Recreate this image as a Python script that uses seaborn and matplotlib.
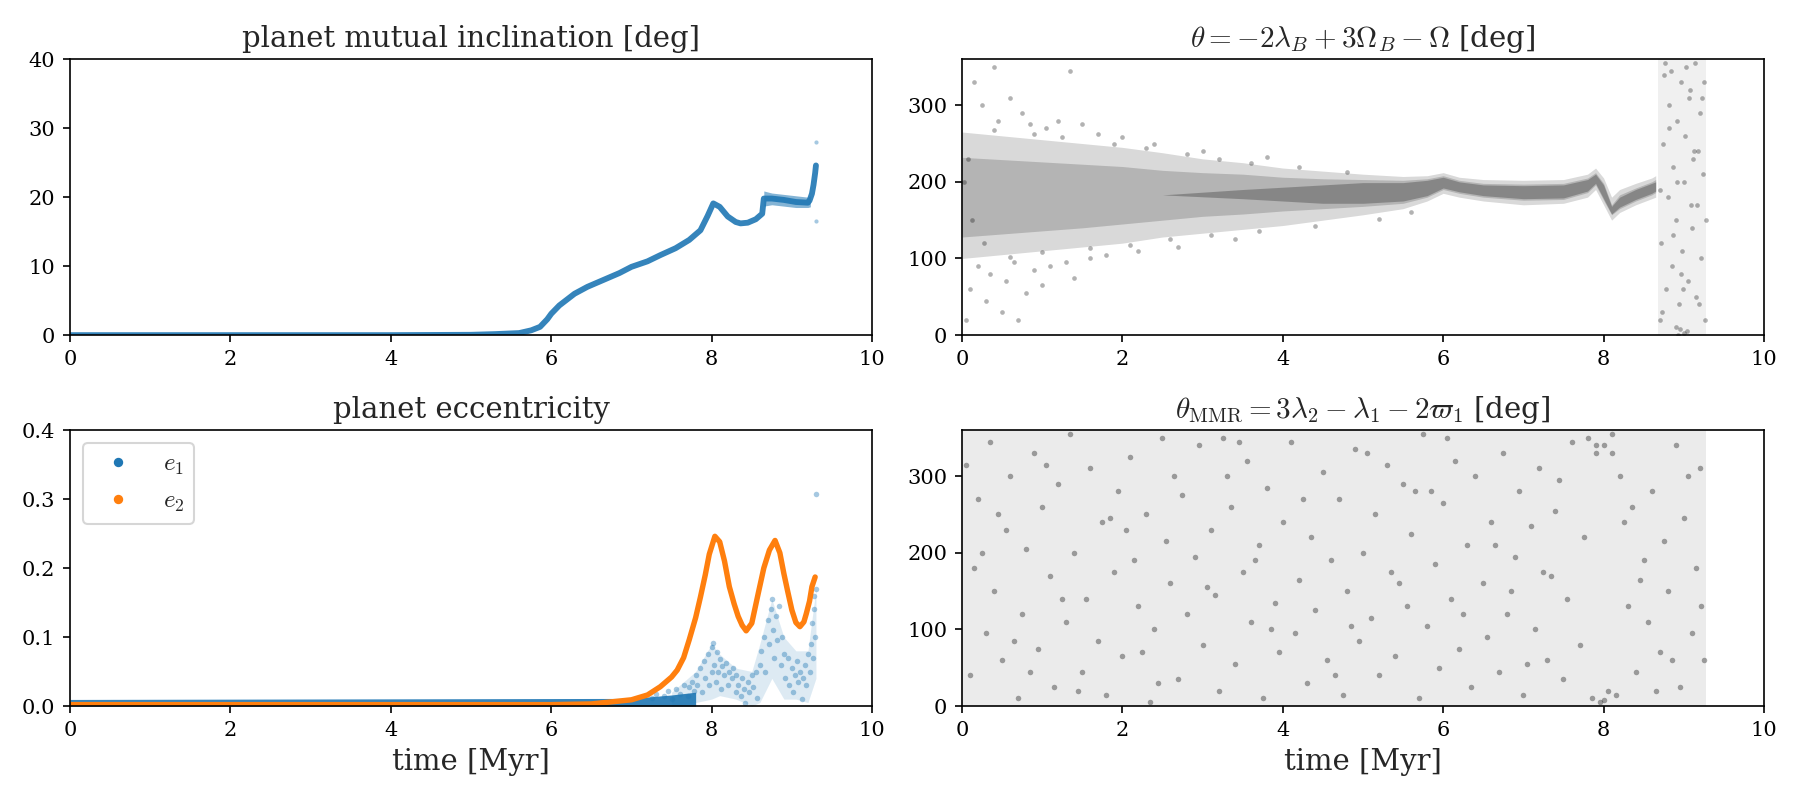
import matplotlib
matplotlib.use("Agg")
import matplotlib.pyplot as plt
import seaborn as sns
from matplotlib.lines import Line2D

# ---------------- data ----------------
# mutual inclination [deg]
inc_t = [0, 1, 2, 3, 4, 5.0, 5.3, 5.6, 5.75, 5.86, 5.95, 6.0, 6.1, 6.29, 6.45, 6.65,
         6.85, 7.0, 7.2, 7.36, 7.55, 7.72, 7.86, 7.95, 8.02, 8.1, 8.2, 8.3, 8.36, 8.45,
         8.55, 8.63, 8.65, 8.75, 8.9, 9.05, 9.2, 9.22, 9.25, 9.27, 9.29, 9.3]
inc_deg = [0, 0, 0, 0, 0, 0.05, 0.15, 0.3, 0.7, 1.2, 2.3, 3.1, 4.3, 6.0, 7.0, 8.0,
           9.0, 9.9, 10.7, 11.6, 12.6, 13.8, 15.2, 17.3, 19.1, 18.6, 17.2, 16.4, 16.2, 16.3,
           16.8, 17.6, 19.8, 19.8, 19.6, 19.3, 19.2, 19.5, 20.5, 21.8, 23.5, 24.6]
inc_band_t = [8.65, 8.75, 8.9, 9.05, 9.2, 9.23]
inc_band_lo = [18.7, 18.9, 18.7, 18.5, 18.5, 18.6]
inc_band_hi = [20.9, 20.6, 20.4, 20.2, 20.0, 20.2]
inc_out_t = [9.3, 9.3]
inc_out_deg = [28.0, 16.5]

# eccentricities
e2_t = [0, 2, 4, 6, 6.5, 7.0, 7.2, 7.36, 7.5, 7.57, 7.65, 7.72, 7.8, 7.86, 7.92, 7.97,
        8.04, 8.1, 8.16, 8.22, 8.28, 8.33, 8.38, 8.43, 8.5, 8.58, 8.65, 8.72, 8.79, 8.85,
        8.9, 8.95, 9.0, 9.05, 9.1, 9.15, 9.18, 9.22, 9.25, 9.29]
e2 = [0.002, 0.002, 0.002, 0.002, 0.003, 0.009, 0.016, 0.028, 0.042, 0.052, 0.07, 0.096,
      0.128, 0.158, 0.19, 0.22, 0.246, 0.238, 0.21, 0.173, 0.148, 0.13, 0.117, 0.109,
      0.12, 0.163, 0.2, 0.226, 0.24, 0.222, 0.192, 0.165, 0.139, 0.121, 0.115, 0.122,
      0.134, 0.152, 0.173, 0.187]
e1_band_t = [0, 7.0, 7.5, 7.8]
e1_band_lo = [0.0, 0.0, 0.0, 0.0]
e1_band_hi = [0.0095, 0.011, 0.016, 0.02]
e1_cloud_t = [7.5, 7.8, 8.0, 8.1, 8.3, 8.5, 8.6, 8.75, 8.9, 9.05, 9.2, 9.3]
e1_cloud_lo = [0.0, 0.005, 0.01, 0.015, 0.01, 0.0, 0.005, 0.04, 0.01, 0.01, 0.005, 0.04]
e1_cloud_hi = [0.02, 0.05, 0.09, 0.075, 0.055, 0.05, 0.09, 0.155, 0.1, 0.08, 0.08, 0.17]
e1_t = [7.25, 7.3, 7.4, 7.45, 7.5, 7.55, 7.6, 7.65, 7.7, 7.72, 7.75, 7.78,
        7.8, 7.82, 7.85, 7.88, 7.9, 7.92, 7.95, 7.97, 8.0, 8.0, 8.02, 8.03, 8.05,
        8.07, 8.08, 8.1, 8.12, 8.13, 8.15, 8.18, 8.2, 8.22, 8.25, 8.27, 8.3, 8.3,
        8.33, 8.36, 8.38, 8.4, 8.42, 8.45, 8.47, 8.5, 8.52, 8.55, 8.57, 8.6,
        8.62, 8.65, 8.67, 8.7, 8.72, 8.74, 8.75, 8.77, 8.78, 8.8, 8.82, 8.84, 8.86,
        8.88, 8.9, 8.92, 8.95, 8.97, 9.0, 9.02, 9.04, 9.06, 9.08, 9.1, 9.12, 9.14,
        9.16, 9.18, 9.2, 9.22, 9.24, 9.25, 9.26, 9.27, 9.28, 9.29, 9.3, 9.3]
e1 = [0.012, 0.018, 0.015, 0.022, 0.01, 0.025, 0.018, 0.03, 0.014, 0.028, 0.035, 0.022,
      0.045, 0.03, 0.055, 0.02, 0.065, 0.04, 0.075, 0.03, 0.085, 0.05, 0.092, 0.06, 0.035,
      0.078, 0.05, 0.068, 0.025, 0.058, 0.045, 0.062, 0.03, 0.05, 0.04, 0.055, 0.02, 0.045,
      0.03, 0.015, 0.04, 0.025, 0.005, 0.035, 0.02, 0.045, 0.028, 0.05, 0.012, 0.06,
      0.08, 0.1, 0.05, 0.125, 0.09, 0.14, 0.155, 0.11, 0.07, 0.13, 0.095, 0.145, 0.06,
      0.1, 0.075, 0.04, 0.07, 0.03, 0.055, 0.02, 0.045, 0.065, 0.035, 0.05, 0.01, 0.04,
      0.06, 0.03, 0.075, 0.05, 0.09, 0.12, 0.07, 0.14, 0.16, 0.1, 0.17, 0.307]

# theta = -2 lambda_B + 3 Omega_B - Omega : libration band envelope
th_t = [0, 0.5, 1, 1.5, 2, 2.5, 3, 3.5, 4, 4.5, 5, 5.5, 5.8, 6.0, 6.2, 6.5, 7.0, 7.5,
        7.8, 7.9, 8.0, 8.1, 8.2, 8.4, 8.6, 8.65]
th_hi = [265, 260, 255, 250, 245, 238, 230, 225, 218, 214, 210, 207, 208, 212, 206, 203,
         202, 203, 210, 218, 205, 180, 190, 198, 205, 208]
th_lo = [100, 105, 110, 115, 120, 128, 133, 138, 143, 150, 157, 165, 175, 185, 180, 175,
         170, 172, 180, 190, 170, 150, 160, 170, 178, 180]
th_core_hi = [232, 229, 226, 223, 220, 215, 212, 210, 206, 204, 203, 202, 204, 208, 202,
              198, 197, 198, 205, 212, 198, 170, 183, 192, 200, 203]
th_core_lo = [128, 132, 136, 140, 145, 150, 155, 158, 162, 165, 168, 172, 180, 190, 185,
              180, 176, 177, 186, 196, 176, 157, 165, 175, 183, 186]
th_narrow_t = [2.5, 3.5, 4.5, 5, 5.5, 5.8, 6.0, 6.2, 6.5, 7.0, 7.5, 7.8, 7.9, 8.0, 8.1,
               8.2, 8.4, 8.6, 8.65]
th_narrow_hi = [183, 190, 196, 199, 199, 202, 206, 200, 196, 195, 196, 203, 210, 196, 168,
                180, 190, 198, 200]
th_narrow_lo = [183, 178, 172, 172, 175, 182, 192, 187, 182, 178, 179, 188, 198, 178, 158,
                167, 177, 185, 188]
th_circ_t = [8.68, 9.28]
th_circ_lo = [0, 0]
th_circ_hi = [360, 360]
th_pts_t = [0.05, 0.1, 0.15, 0.2, 0.25, 0.3, 0.35, 0.4, 0.45, 0.5,
            0.55, 0.6, 0.65, 0.7, 0.75, 0.8, 0.85, 0.9, 1.0, 1.05,
            1.1, 1.2, 1.3, 1.35, 1.4, 1.5, 1.6, 1.7, 1.8, 2.0,
            2.2, 2.4, 2.7, 3.0, 3.4, 3.8, 0.02, 0.08, 0.12, 0.28,
            8.7, 8.72, 8.74, 8.75, 8.78, 8.8, 8.82, 8.85, 8.87, 8.9,
            8.9, 8.92, 8.94, 8.96, 8.98, 9.0, 9.02, 9.04, 9.05, 9.07,
            9.1, 9.12, 9.14, 9.15, 9.17, 9.2, 9.22, 9.24, 9.26, 9.28,
            8.93, 8.95, 9.0, 8.76, 8.84, 9.08, 9.18, 8.7, 9.25, 8.99,
            0.4, 0.9, 1.25, 1.9, 2.3, 2.8, 3.2, 3.6, 4.2, 4.8,
            0.6, 1.0, 1.6, 2.1, 2.6, 3.1, 3.7, 4.4, 5.2, 5.6,
            8.73, 8.81, 8.86, 8.91, 8.97, 9.03, 9.09, 9.13, 9.19, 9.23]
th_pts_deg = [20, 60, 330, 90, 300, 45, 80, 350, 280, 30,
              70, 310, 95, 20, 290, 55, 275, 85, 65, 270,
              90, 280, 95, 345, 75, 275, 100, 262, 105, 258,
              110, 250, 115, 240, 125, 232, 200, 230, 150, 120,
              20, 120, 250, 340, 60, 180, 300, 90, 220, 10,
              150, 280, 40, 330, 110, 200, 260, 5, 70, 310,
              140, 230, 355, 50, 170, 290, 100, 210, 20, 150,
              0, 8, 3, 355, 345, 320, 240, 190, 330, 60,
              268, 262, 258, 250, 244, 236, 230, 224, 220, 213,
              102, 108, 114, 118, 125, 130, 136, 142, 152, 160,
              30, 270, 130, 200, 80, 350, 170, 240, 40, 310]

# theta_MMR = 3 lambda_2 - lambda_1 - 2 varpi_1 : circulating
mmr_fill_t = [0.0, 9.28]
mmr_fill_lo = [0, 0]
mmr_fill_hi = [360, 360]
mmr_t = [0.05, 0.1, 0.15, 0.2, 0.3, 0.35, 0.4, 0.5, 0.55, 0.6,
         0.7, 0.75, 0.8, 0.9, 0.95, 1.0, 1.1, 1.15, 1.2, 1.3,
         1.35, 1.4, 1.5, 1.55, 1.6, 1.7, 1.75, 1.8, 1.9, 1.95,
         2.0, 2.1, 2.15, 2.2, 2.3, 2.35, 2.4, 2.5, 2.55, 2.6,
         2.7, 2.75, 2.8, 2.9, 2.95, 3.0, 3.1, 3.15, 3.2, 3.3,
         3.35, 3.4, 3.5, 3.55, 3.6, 3.7, 3.75, 3.8, 3.9, 3.95,
         4.0, 4.1, 4.15, 4.2, 4.3, 4.35, 4.4, 4.5, 4.55, 4.6,
         4.7, 4.75, 4.8, 4.9, 4.95, 5.0, 5.1, 5.15, 5.2, 5.3,
         5.35, 5.4, 5.5, 5.55, 5.6, 5.7, 5.75, 5.8, 5.9, 5.95,
         6.0, 6.1, 6.15, 6.2, 6.3, 6.35, 6.4, 6.5, 6.55, 6.6,
         6.7, 6.75, 6.8, 6.9, 6.95, 7.0, 7.1, 7.15, 7.2, 7.3,
         7.35, 7.4, 7.5, 7.55, 7.6, 7.7, 7.75, 7.8, 7.85, 7.9,
         7.95, 8.0, 8.05, 8.1, 8.15, 8.2, 8.3, 8.35, 8.4, 8.5,
         8.55, 8.6, 8.7, 8.75, 8.8, 8.9, 8.95, 9.0, 9.1, 9.15,
         9.2, 9.25]
mmr_deg = [315, 40, 180, 270, 95, 345, 150, 60, 230, 300,
           10, 120, 205, 330, 75, 260, 170, 25, 290, 110,
           355, 200, 45, 140, 310, 85, 240, 15, 175, 280,
           65, 325, 190, 130, 250, 5, 100, 350, 215, 160,
           35, 275, 120, 195, 340, 80, 230, 145, 20, 300,
           260, 55, 175, 320, 110, 210, 10, 285, 135, 70,
           240, 345, 95, 165, 30, 220, 125, 305, 60, 190,
           270, 15, 150, 335, 85, 200, 115, 250, 40, 315,
           175, 65, 290, 130, 225, 10, 355, 105, 185, 50,
           265, 140, 320, 75, 210, 25, 300, 160, 90, 240,
           45, 330, 120, 195, 280, 15, 235, 100, 310, 60,
           170, 255, 35, 140, 345, 80, 220, 350, 10, 330,
           5, 340, 20, 355, 15, 300, 130, 260, 45, 190,
           110, 280, 70, 215, 150, 340, 25, 245, 95, 180,
           310, 60]
mmr_t2 = [0.25, 0.65, 1.05, 1.45, 1.85, 2.25, 2.65, 3.05, 3.45, 3.85,
          4.25, 4.65, 5.05, 5.45, 5.85, 6.25, 6.65, 7.05, 7.45, 7.9,
          8.0, 8.1, 8.45, 8.85, 9.05, 0.45, 1.25, 2.45, 3.65, 4.85,
          6.05, 7.25, 8.25, 8.65, 9.22, 0.85, 2.05, 3.25, 5.65, 6.85]
mmr_deg2 = [200, 85, 315, 20, 245, 70, 300, 155, 345, 100,
            270, 40, 330, 160, 280, 120, 210, 55, 295, 340,
            8, 330, 165, 60, 300, 250, 140, 30, 190, 105,
            350, 175, 240, 20, 130, 45, 230, 350, 280, 150]

x_ticks = [0, 2, 4, 6, 8, 10]

# ---------------- style ----------------
sns.set_style("ticks")
plt.rcParams["font.family"] = ["DejaVu Serif"]
plt.rcParams["mathtext.fontset"] = "cm"
plt.rcParams["xtick.labelsize"] = 10
plt.rcParams["ytick.labelsize"] = 10
plt.rcParams["axes.edgecolor"] = "black"
plt.rcParams["xtick.color"] = "black"
plt.rcParams["ytick.color"] = "black"
plt.rcParams["axes.linewidth"] = 0.8

C0 = "#1f77b4"
C1 = "#ff7f0e"

fig, axes = plt.subplots(2, 2, figsize=(12, 16 / 3), dpi=150)
fig.subplots_adjust(left=0.0389, right=0.98, bottom=0.1175, top=0.926,
                    wspace=0.112, hspace=0.344)
ax_inc, ax_th = axes[0]
ax_ecc, ax_mmr = axes[1]

# --- inclination
ax_inc.fill_between(inc_band_t, inc_band_lo, inc_band_hi, color=C0, alpha=0.55, linewidth=0)
sns.lineplot(x=inc_t, y=inc_deg, ax=ax_inc, color=C0, linewidth=2.8,
             estimator=None, sort=False, alpha=0.9)
sns.scatterplot(x=inc_out_t, y=inc_out_deg, ax=ax_inc, color=C0, s=4, alpha=0.4, linewidth=0)
ax_inc.set_xlim(0, 10)
ax_inc.set_ylim(0, 40)
ax_inc.set_xticks(x_ticks)
ax_inc.set_title("planet mutual inclination [deg]", fontsize=14)

# --- theta (libration)
ax_th.fill_between(th_t, th_lo, th_hi, color="black", alpha=0.15, linewidth=0)
ax_th.fill_between(th_t, th_core_lo, th_core_hi, color="black", alpha=0.17, linewidth=0)
ax_th.fill_between(th_narrow_t, th_narrow_lo, th_narrow_hi, color="black", alpha=0.25, linewidth=0)
ax_th.fill_between(th_circ_t, th_circ_lo, th_circ_hi, color="black", alpha=0.06, linewidth=0)
sns.scatterplot(x=th_pts_t, y=th_pts_deg, ax=ax_th, color="black", s=5, alpha=0.3, linewidth=0)
ax_th.set_xlim(0, 10)
ax_th.set_ylim(0, 360)
ax_th.set_xticks(x_ticks)
ax_th.set_yticks([0, 100, 200, 300])
ax_th.set_title(r"$\theta = -2\lambda_B + 3\Omega_B - \Omega$ [deg]", fontsize=14)

# --- eccentricity
ax_ecc.fill_between(e1_band_t, e1_band_lo, e1_band_hi, color=C0, alpha=0.9, linewidth=0)
ax_ecc.fill_between(e1_cloud_t, e1_cloud_lo, e1_cloud_hi, color=C0, alpha=0.15, linewidth=0)
sns.scatterplot(x=e1_t, y=e1, ax=ax_ecc, color=C0, s=7, alpha=0.4, linewidth=0)
sns.lineplot(x=e2_t, y=e2, ax=ax_ecc, color=C1, linewidth=2.6,
             estimator=None, sort=False)
ax_ecc.set_xlim(0, 10)
ax_ecc.set_ylim(0, 0.4)
ax_ecc.set_xticks(x_ticks)
ax_ecc.set_yticks([0.0, 0.1, 0.2, 0.3, 0.4])
ax_ecc.set_title("planet eccentricity", fontsize=14)
ax_ecc.set_xlabel("time [Myr]", fontsize=14)
handles = [Line2D([], [], marker="o", linestyle="none", color=C0, markersize=3.5),
           Line2D([], [], marker="o", linestyle="none", color=C1, markersize=3.5)]
ax_ecc.legend(handles, [r"$e_1$", r"$e_2$"], loc="upper left", fontsize=12,
              frameon=True)

# --- theta MMR (circulating)
ax_mmr.fill_between(mmr_fill_t, mmr_fill_lo, mmr_fill_hi, color="black", alpha=0.08, linewidth=0)
sns.scatterplot(x=mmr_t, y=mmr_deg, ax=ax_mmr, color="black", s=7, alpha=0.35, linewidth=0)
sns.scatterplot(x=mmr_t2, y=mmr_deg2, ax=ax_mmr, color="black", s=7, alpha=0.35, linewidth=0)
ax_mmr.set_xlim(0, 10)
ax_mmr.set_ylim(0, 360)
ax_mmr.set_xticks(x_ticks)
ax_mmr.set_yticks([0, 100, 200, 300])
ax_mmr.set_title(r"$\theta_{\rm MMR} = 3\lambda_2 - \lambda_1 - 2\varpi_1$ [deg]", fontsize=14)
ax_mmr.set_xlabel("time [Myr]", fontsize=14)

for ax in (ax_inc, ax_th):
    ax.set_xlabel("")
for ax in axes.flat:
    ax.set_ylabel("")
    ax.tick_params(direction="out", length=3.5, width=0.8)

fig.savefig("out.png", dpi=150)
